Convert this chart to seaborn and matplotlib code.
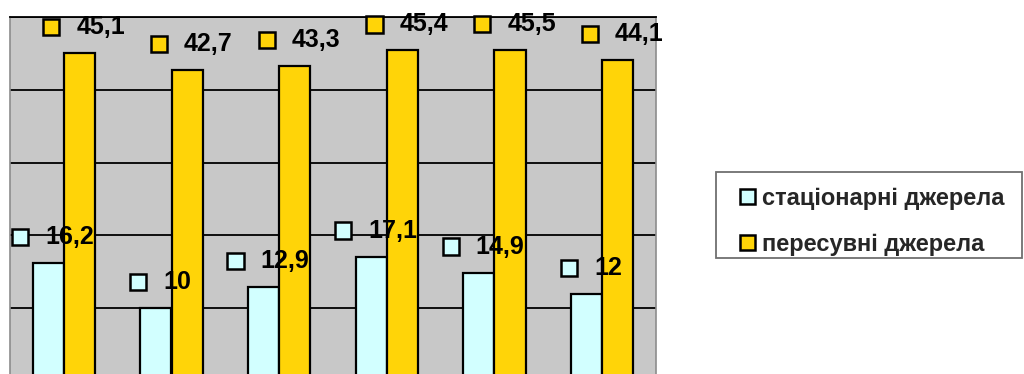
import numpy as np
import pandas as pd
import matplotlib
matplotlib.use("Agg")
import matplotlib.pyplot as plt
import seaborn as sns
from matplotlib.patches import Rectangle
from matplotlib.offsetbox import AnnotationBbox, HPacker, DrawingArea, TextArea

# ---- data ----
categories = ["1", "2", "3", "4", "5", "6"]
stationary = [16.2, 10, 12.9, 17.1, 14.9, 12]
mobile = [45.1, 42.7, 43.3, 45.4, 45.5, 44.1]
series_names = ["стаціонарні джерела", "пересувні джерела"]
label_texts_stat = ["16,2", "10", "12,9", "17,1", "14,9", "12"]
label_texts_mob = ["45,1", "42,7", "43,3", "45,4", "45,5", "44,1"]

colors = ["#D2FFFF", "#FFD408"]
bg = "#C8C8C8"

df = pd.DataFrame({
    "cat": categories * 2,
    "val": stationary + mobile,
    "series": [series_names[0]] * 6 + [series_names[1]] * 6,
})

sns.set_style("white")
plt.rcParams["font.family"] = ["Liberation Sans", "DejaVu Sans"]

W, H = 1024, 374
fig = plt.figure(figsize=(W / 100, H / 100), dpi=100)
ax = fig.add_axes([10 / W, (H - 381) / H, 646 / W, 364 / H])
ax.set_facecolor(bg)

sns.barplot(data=df, x="cat", y="val", hue="series", palette=colors,
            width=0.58, edgecolor="black", linewidth=1.6, ax=ax,
            legend=False, saturation=1)

ax.set_ylim(0, 50)
ax.set_xlim(-0.5, 5.5)
ax.set_yticks([10, 20, 30, 40, 50])
ax.yaxis.grid(True, color="black", linewidth=1.3)
ax.set_axisbelow(True)
ax.tick_params(left=False, bottom=False, labelleft=False, labelbottom=False)
ax.set_xlabel("")
ax.set_ylabel("")
for s in ["left", "right"]:
    ax.spines[s].set_color("#8c8c8c")
    ax.spines[s].set_linewidth(1.2)
ax.spines["top"].set_color("black")
ax.spines["top"].set_linewidth(1.3)
ax.spines["bottom"].set_visible(False)

# ---- data labels with legend key ----
bars = [p for p in ax.patches if isinstance(p, Rectangle) and p.get_height() > 0]
bars = sorted(bars, key=lambda p: p.get_x())
stat_bars = [b for b in bars if b.get_facecolor()[2] > 0.5]
mob_bars = [b for b in bars if b.get_facecolor()[2] <= 0.5]

def add_label(bar, text, color):
    da = DrawingArea(14, 14, 0, 0)
    da.add_artist(Rectangle((1.2, 1.2), 11.6, 11.6, facecolor=color,
                            edgecolor="black", linewidth=1.8))
    ta = TextArea(text, textprops=dict(fontsize=18, fontweight="bold", color="black"))
    pack = HPacker(children=[da, ta], align="center", pad=0, sep=11)
    x = bar.get_x() + bar.get_width() / 2
    y = bar.get_height()
    ab = AnnotationBbox(pack, (x, y), xybox=(4, 26), boxcoords="offset pixels",
                        frameon=False, box_alignment=(0.5, 0.5), annotation_clip=False)
    ax.add_artist(ab)

for b, t in zip(stat_bars, label_texts_stat):
    add_label(b, t, colors[0])
for b, t in zip(mob_bars, label_texts_mob):
    add_label(b, t, colors[1])

# ---- legend ----
handles = [Rectangle((0, 0), 1, 1, facecolor=c, edgecolor="black", linewidth=1.8) for c in colors]
leg = fig.legend(handles, series_names, loc="center left",
                 bbox_to_anchor=(740 / W, 1 - 221.5 / H),
                 prop=dict(size=17, weight="bold"), frameon=False,
                 handlelength=0.62, handleheight=0.62, handletextpad=0.3,
                 labelspacing=0.97, borderpad=0, borderaxespad=0)
fig.patches.append(Rectangle((716 / W, 1 - 258 / H), 306 / W, 86 / H,
                             transform=fig.transFigure, fill=False,
                             edgecolor="#707070", linewidth=1.3))

fig.savefig("out.png", dpi=100)
